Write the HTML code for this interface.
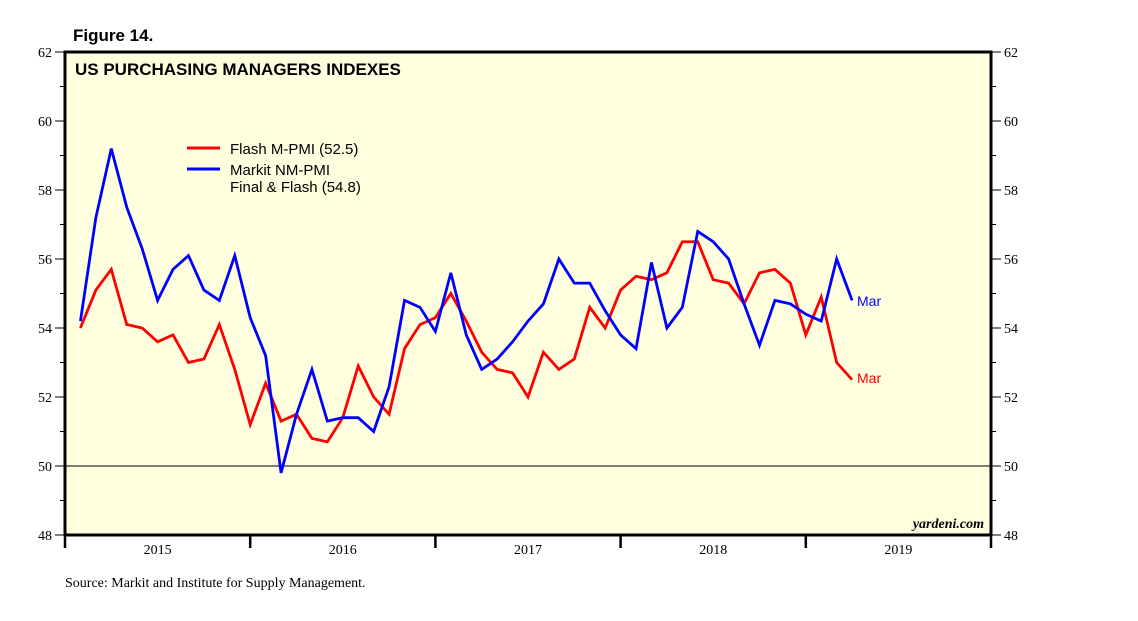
<!DOCTYPE html>
<html><head><meta charset="utf-8"><style>
body{margin:0;background:#fff;}
svg{display:block;font-family:"Liberation Sans",sans-serif;}
</style></head><body>
<svg id="chart" width="1138" height="621" viewBox="0 0 1138 621">
<text x="73" y="41" font-size="17" font-weight="bold">Figure 14.</text>
<rect x="65" y="52" width="926" height="483" fill="#ffffe0" stroke="#000" stroke-width="3"/>
<text x="75" y="75" font-size="17" font-weight="bold">US PURCHASING MANAGERS INDEXES</text>
<g id="axes"></g>
<g id="series"></g>
<g>
<line x1="187" y1="148" x2="220" y2="148" stroke="#f00" stroke-width="3"/>
<text x="230" y="154" font-size="15">Flash M-PMI (52.5)</text>
<line x1="187" y1="169" x2="220" y2="169" stroke="#00f" stroke-width="3"/>
<text x="230" y="175" font-size="15">Markit NM-PMI</text>
<text x="230" y="192" font-size="15">Final &amp; Flash (54.8)</text>
</g>
<text x="857" y="306" font-size="14" fill="#00f">Mar</text>
<text x="857" y="383" font-size="14" fill="#f00">Mar</text>
<text x="984" y="528" font-size="14" font-style="italic" font-weight="bold" font-family="Liberation Serif,serif" text-anchor="end">yardeni.com</text>
<text x="65" y="587" font-size="14" font-family="Liberation Serif,serif">Source: Markit and Institute for Supply Management.</text>
</svg>
<script>
const years=["2015","2016","2017","2018","2019"];
const yTicks=[48,50,52,54,56,58,60,62];
const flash=[54.0,55.1,55.7,54.1,54.0,53.6,53.8,53.0,53.1,54.1,52.8,51.2,52.4,51.3,51.5,50.8,50.7,51.4,52.9,52.0,51.5,53.4,54.1,54.3,55.0,54.2,53.3,52.8,52.7,52.0,53.3,52.8,53.1,54.6,54.0,55.1,55.5,55.4,55.6,56.5,56.5,55.4,55.3,54.7,55.6,55.7,55.3,53.8,54.9,53.0,52.5];
const markit=[54.2,57.2,59.2,57.5,56.3,54.8,55.7,56.1,55.1,54.8,56.1,54.3,53.2,49.8,51.5,52.8,51.3,51.4,51.4,51.0,52.3,54.8,54.6,53.9,55.6,53.8,52.8,53.1,53.6,54.2,54.7,56.0,55.3,55.3,54.5,53.8,53.4,55.9,54.0,54.6,56.8,56.5,56.0,54.7,53.5,54.8,54.7,54.4,54.2,56.0,54.8];
const NS="http://www.w3.org/2000/svg";
const X0=65,X1=991,Y0=535,Y1=52,yMin=48,yMax=62;
const mW=(X1-X0)/60;
const xs=i=>X0+(i+1)*mW;
const ys=v=>Y0-(v-yMin)/(yMax-yMin)*(Y0-Y1);
function mk(t,a,p){const e=document.createElementNS(NS,t);for(const k in a)e.setAttribute(k,a[k]);p.appendChild(e);return e;}
const ax=document.getElementById('axes');
for(let v=yMin;v<=yMax;v++){
 const y=ys(v),len=v%2===0?10:5;
 const l=mk('line',{x1:X0-len,x2:X0,y1:y,y2:y,stroke:'#000','stroke-width':1},ax);
 
 
 const r=mk('line',{x1:X1,x2:X1+len,y1:y,y2:y,stroke:'#000','stroke-width':1},ax);
 
 
}
yTicks.forEach(v=>{
 const t=mk('text',{x:X0-13,y:ys(v)+5,'font-size':14,'text-anchor':'end','font-family':'Liberation Serif,serif'},ax);t.textContent=v;
 
 
 const t2=mk('text',{x:X1+13,y:ys(v)+5,'font-size':14,'font-family':'Liberation Serif,serif'},ax);t2.textContent=v;
 
 
});
const base=mk('line',{x1:X0,x2:X1,y1:ys(50),y2:ys(50),stroke:'#000','stroke-width':1},ax);


for(let m=0;m<=60;m+=12){
 const x=X0+m*mW;
 const l=mk('line',{x1:x,x2:x,y1:Y0,y2:Y0+13,stroke:'#000','stroke-width':2.5},ax);
 
 
}
years.forEach((yr,i)=>{
 const t=mk('text',{x:X0+(i*12+6)*mW,y:Y0+19,'font-size':14,'text-anchor':'middle','font-family':'Liberation Serif,serif'},ax);t.textContent=yr;
 
 
});
const sg=document.getElementById('series');
function line(d,c,n){
 const p=mk('polyline',{points:d.map((v,i)=>xs(i)+','+ys(v)).join(' '),fill:'none',stroke:c,'stroke-width':2.8,'stroke-linejoin':'miter'},sg);
 
 
}
line(flash,'#f00','flash-mpmi-line');
line(markit,'#00f','markit-nmpmi-line');
</script>
</body></html>
